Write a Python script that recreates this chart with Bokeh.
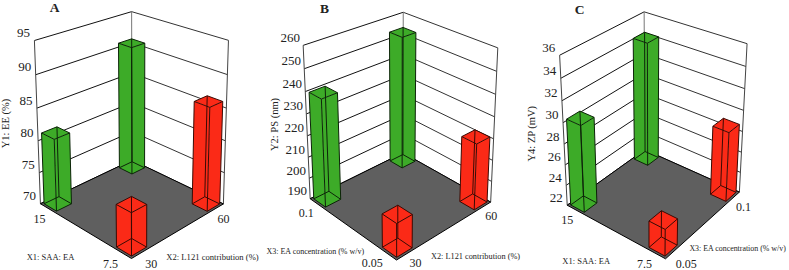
import numpy as np
from bokeh.plotting import figure
from bokeh.models import Range1d
from bokeh.core.properties import value
from bokeh.embed import file_html
from bokeh.resources import INLINE

# ---- data ----
A_y_ticks = [70, 75, 80, 85, 90, 95]
B_y_ticks = [190, 200, 210, 220, 230, 240, 250, 260]
C_y_ticks = [22, 24, 26, 28, 30, 32, 34, 36]
# bar order: front (low, low), right (low, high), left (high, low), back (high, high)
A_values = [76.3, 86.0, 81.2, 90.8]
B_values = [205, 220.8, 239.7, 253.5]
C_values = [24.5, 28.7, 30.3, 34.2]
A_left_cats, A_right_cats = ["7.5", "15"], ["30", "60"]
B_left_cats, B_right_cats = ["0.05", "0.1"], ["30", "60"]
C_left_cats, C_right_cats = ["7.5", "15"], ["0.05", "0.1"]
titles = ["A", "B", "C"]
y_titles = ["Y1: EE (%)", "Y2: PS (nm)", "Y4: ZP (mV)"]
x_left_titles = ["X1: SAA: EA", "X3: EA concentration (% w/v)", "X1: SAA: EA"]
x_right_titles = ["X2: L121 contribution (%)", "X2: L121 contribution (%)", "X3: EA concentration (% w/v)"]

GREEN, RED, FLOOR = "#3dab28", "#fb2a17", "#5f5f5f"
SERIF = value("Liberation Serif")

# ---- layout of each panel: picture positions of the box corners and labels ----
panels = [
    dict(F=(131, 258), L=(40, 203), R=(223, 203), B=(131.5, 160), TL=(34, 40), TR=(228, 40), TB=(131, 11),
         ticks=A_y_ticks, vals=A_values, lc=A_left_cats, rc=A_right_cats, off=(-11, -7.5),
         title=(54, 7), yt=(5, 123), lt=(50, 256), rt=(212, 256), fs=(8.5, 8.6),
         lp=[(110, 263.5), (39, 218)], rp=[(150.7, 263.5), (223, 218)]),
    dict(F=(396, 259.5), L=(309.5, 198), R=(490, 201.5), B=(402.7, 152.5), TL=(302.7, 45), TR=(497.3, 47.3), TB=(402.7, 11.7),
         ticks=B_y_ticks, vals=B_values, lc=B_left_cats, rc=B_right_cats, off=(-13, -7.5),
         title=(324, 8), yt=(273.5, 124), lt=(315, 250.7), rt=(475, 255.7), fs=(8.0, 8.3),
         lp=[(371.7, 262.3), (305.7, 212.7)], rp=[(415, 262.3), (490.7, 215.7)]),
    dict(F=(665, 258.3), L=(566.7, 204), R=(739, 191), B=(644, 150), TL=(559, 55), TR=(746.3, 43.3), TB=(644, 11),
         ticks=C_y_ticks, vals=C_values, lc=C_left_cats, rc=C_right_cats, off=(-11, -7.5),
         title=(579, 9), yt=(531.3, 133), lt=(585.7, 260.7), rt=(737.3, 247.7), fs=(8.5, 7.9),
         lp=[(644, 263.3), (566.7, 219)], rp=[(685.7, 263.3), (743, 206.7)]),
]
LOW, HIGH, HALF = 0.095, 0.905, 0.075


def fit_projection(pn):
    """Perspective map (u, v, w) -> picture, fitted to the box corners."""
    O = np.array(pn["F"], float)
    pts = [((1, 0, 0), pn["L"]), ((0, 1, 0), pn["R"]), ((1, 1, 0), pn["B"]),
           ((1, 0, 1), pn["TL"]), ((0, 1, 1), pn["TR"]), ((1, 1, 1), pn["TB"])]
    M, b = [], []
    for (u, v, w), (x, y) in pts:
        M.append([u, v, w, 0, 0, 0, -x * u, -x * v, -x * w]); b.append(x - O[0])
        M.append([0, 0, 0, u, v, w, -y * u, -y * v, -y * w]); b.append(y - O[1])
    s = np.linalg.lstsq(np.array(M, float), np.array(b, float), rcond=None)[0]

    def proj(u, v, w):
        d = 1 + s[6] * u + s[7] * v + s[8] * w
        return ((O[0] + s[0] * u + s[1] * v + s[2] * w) / d,
                (O[1] + s[3] * u + s[4] * v + s[5] * w) / d)
    return proj


p = figure(width=789, height=270, output_backend="svg", toolbar_location=None,
           x_range=Range1d(0, 789), y_range=Range1d(270, 0), min_border=0)
p.axis.visible = False
p.grid.visible = False
p.outline_line_color = None


def seg(a, b, color="black", width=1.0):
    p.line([a[0], b[0]], [a[1], b[1]], line_color=color, line_width=width)


def poly(points, color):
    p.patch([q[0] for q in points], [q[1] for q in points], fill_color=color, line_color=None)


def txt(x, y, s, size, angle=0.0, style="normal"):
    p.text([x], [y], text=[s], text_font=SERIF, text_font_size=f"{size}px", text_color="#222222",
           text_align="center", text_baseline="middle", angle=angle, text_font_style=style)


def bar(proj, uc, vc, w, color):
    u0, u1, v0, v1 = uc - HALF, uc + HALF, vc - HALF, vc + HALF
    c = {(i, j, k): proj(i, j, k) for i in (u0, u1) for j in (v0, v1) for k in (0, w)}
    poly([c[u0, v0, 0], c[u0, v1, 0], c[u0, v1, w], c[u0, v0, w]], color)
    poly([c[u0, v0, 0], c[u1, v0, 0], c[u1, v0, w], c[u0, v0, w]], color)
    poly([c[u0, v0, w], c[u1, v0, w], c[u1, v1, w], c[u0, v1, w]], color)
    edge = "#0c2408" if color == GREEN else "#3a0a04"
    for i in (u0, u1):
        for j in (v0, v1):
            seg(c[i, j, 0], c[i, j, w], edge)
    for k in (0, w):
        for a, b in [((u0, v0), (u1, v0)), ((u1, v0), (u1, v1)), ((u1, v1), (u0, v1)), ((u0, v1), (u0, v0))]:
            seg(c[a[0], a[1], k], c[b[0], b[1], k], edge)


for idx, pn in enumerate(panels):
    proj = fit_projection(pn)
    ticks = pn["ticks"]
    y0, y1 = ticks[0], ticks[-1]
    wv = lambda t: (t - y0) / (y1 - y0)

    # walls
    for t in ticks:
        w = wv(t)
        seg(proj(1, 0, w), proj(1, 1, w), "#111111")
        seg(proj(1, 1, w), proj(0, 1, w), "#333333")
        x, y = proj(1, 0, w)
        txt(x + pn["off"][0], y + pn["off"][1], str(t), 13)
    seg(proj(1, 0, 0), proj(1, 0, 1), "#444444")
    seg(proj(1, 1, 0), proj(1, 1, 1), "#777777")
    seg(proj(0, 1, 0), proj(0, 1, 1), "#444444")

    # floor
    f = [proj(0, 0, 0), proj(1, 0, 0), proj(1, 1, 0), proj(0, 1, 0)]
    p.patch([q[0] for q in f], [q[1] for q in f], fill_color=FLOOR, line_color="black", line_width=1)

    # bars, back to front
    vals = pn["vals"]
    bar(proj, HIGH, HIGH, wv(vals[3]), GREEN)
    bar(proj, HIGH, LOW, wv(vals[2]), GREEN)
    bar(proj, LOW, HIGH, wv(vals[1]), RED)
    bar(proj, LOW, LOW, wv(vals[0]), RED)

    # labels
    txt(*pn["title"], titles[idx], 13.5, style="bold")
    txt(*pn["yt"], y_titles[idx], 10.5, angle=np.pi / 2)
    txt(*pn["lt"], x_left_titles[idx], pn["fs"][0])
    txt(*pn["rt"], x_right_titles[idx], pn["fs"][1])
    for (x, y), s in zip(pn["lp"], pn["lc"]):
        txt(x, y, s, 12)
    for (x, y), s in zip(pn["rp"], pn["rc"]):
        txt(x, y, s, 12)

open("out.html", "w").write(file_html(p, INLINE))
